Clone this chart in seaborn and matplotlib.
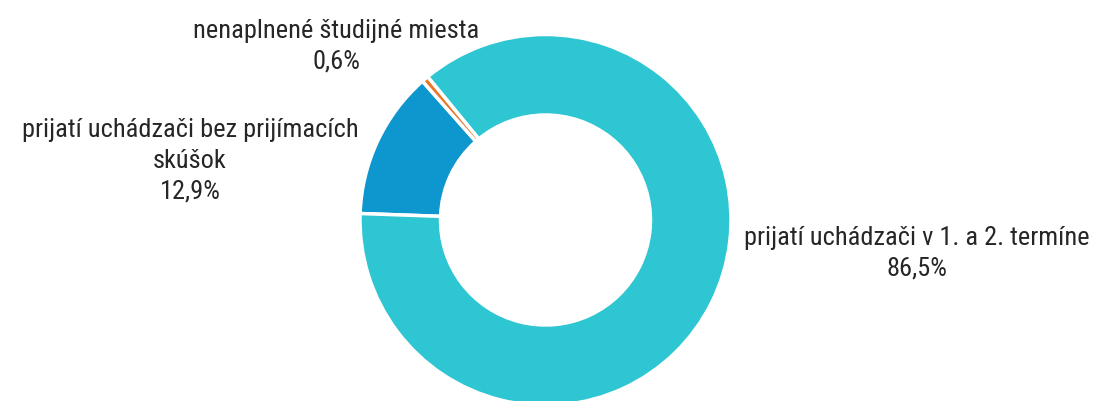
import matplotlib
matplotlib.use("Agg")
import matplotlib.pyplot as plt
import seaborn as sns

# data
labels = ["prijatí uchádzači bez prijímacích\nskúšok",
          "nenaplnené študijné miesta",
          "prijatí uchádzači v 1. a 2. termíne"]
values = [12.9, 0.6, 86.5]
colors = ["#0E96CE", "#E8792B", "#2EC6D3"]

sns.set_theme(style="white")
plt.rcParams["font.family"] = ["Roboto Condensed", "DejaVu Sans"]

fig = plt.figure(figsize=(10.94, 4.01), dpi=100)
ax = fig.add_axes([0, 0, 1, 1])

# radius 1 = 185.5 px, centre at (545.5, 220) px from top-left
px = 185.5
cx, cy = 545.5, 220

wedges, _ = ax.pie(values, colors=colors, startangle=178, counterclock=False,
                   radius=1, wedgeprops=dict(width=0.434, edgecolor="white", linewidth=2.5))

ax.set_xlim(-cx / px, (1094 - cx) / px)
ax.set_ylim(-(401 - cy) / px, cy / px)
ax.set_aspect("auto")
ax.axis("off")

def to_data(x, y):
    return (x - cx) / px, (cy - y) / px

# label positions (centre of text block, pixels)
label_pos = [(190, 161), (336, 46), (917, 253)]
for lab, val, (x, y) in zip(labels, values, label_pos):
    dx, dy = to_data(x, y)
    pct = f"{val:.1f}".replace(".", ",") + "%"
    ax.text(dx, dy, lab + "\n" + pct, ha="center", va="center",
            fontsize=19, color="#262626", linespacing=1.35)

fig.savefig("out.png", dpi=100)
